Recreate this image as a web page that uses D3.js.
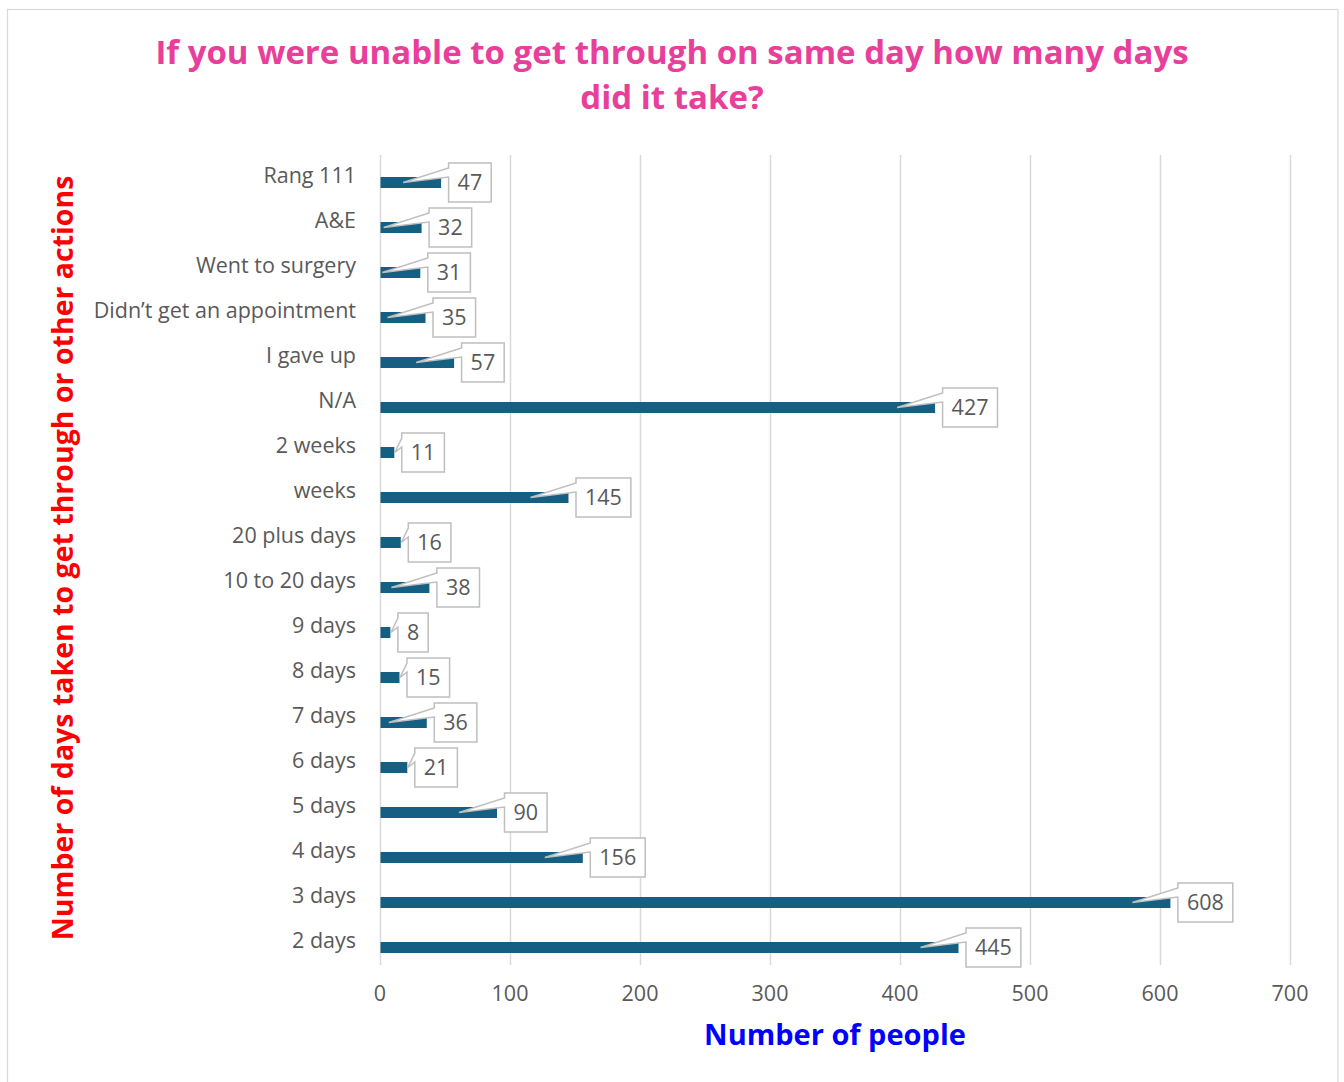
<!DOCTYPE html>
<html><head><meta charset="utf-8">
<script src="https://cdn.jsdelivr.net/npm/d3@7"></script>
<style>body{margin:0;background:#fff}svg{display:block}</style>
</head><body>
<script>
const categories = ["Rang 111","A&E","Went to surgery","Didn’t get an appointment","I gave up","N/A","2 weeks","weeks","20 plus days","10 to 20 days","9 days","8 days","7 days","6 days","5 days","4 days","3 days","2 days"];
const values = [47,32,31,35,57,427,11,145,16,38,8,15,36,21,90,156,608,445];
const xTicks = [0,100,200,300,400,500,600,700];
const titleLines = ["If you were unable to get through on same day how many days","did it take?"];
const yTitle = "Number of days taken to get through or other actions";
const xTitle = "Number of people";

const W = 1344, H = 1082;
const svg = d3.select("body").append("svg").attr("width", W).attr("height", H);
const FONT = "'Open Sans', 'Noto Sans', sans-serif";

svg.append("rect").attr("x",7.5).attr("y",9.5).attr("width",1330.5).attr("height",1080)
  .attr("fill","#fff").attr("stroke","#d9d9d9").attr("stroke-width",1.2);

const x = d3.scaleLinear().domain([0,700]).range([380,1290]);
const y = d3.scaleBand().domain(categories).range([155,965]).padding(0);

// gridlines
svg.append("g").selectAll("line").data(xTicks).join("line")
  .attr("x1",d=>x(d)+0.5).attr("x2",d=>x(d)+0.5).attr("y1",155).attr("y2",965)
  .attr("stroke","#d9d9d9").attr("stroke-width",1.5);

// tick labels
svg.append("g").selectAll("text").data(xTicks).join("text")
  .attr("x",d=>x(d)).attr("y",1001).attr("text-anchor","middle")
  .attr("font-family",FONT).attr("font-size",21.5).attr("fill","#595959").text(d=>d);

// category labels
svg.append("g").selectAll("text").data(categories).join("text")
  .attr("x",356).attr("y",d=>y(d)+y.bandwidth()/2+5.5).attr("text-anchor","end")
  .attr("font-family",FONT).attr("font-size",21.5).attr("fill","#595959").text(d=>d);

// bars
const barH = 11;
const cy = d => y(d)+y.bandwidth()/2+5;
svg.append("g").selectAll("rect").data(categories).join("rect")
  .attr("x",x(0)+0.5).attr("y",d=>cy(d)-barH/2)
  .attr("width",(d,i)=>x(values[i])-x(0)-0.5).attr("height",barH)
  .attr("fill","#156082");

// callout labels
const lg = svg.append("g");
categories.forEach((c,i)=>{
  const v = values[i];
  const end = x(v);
  const yc = cy(c);
  const t = lg.append("text").attr("font-family",FONT).attr("font-size",21.5).attr("fill","#595959")
    .attr("text-anchor","middle").text(v);
  const tw = t.node().getComputedTextLength();
  const bw = tw + 18, bh = 39;
  const bx = end + 7.5, by = yc - bh/2;
  let tipX = end - 38;
  if (tipX < x(0) + 2) tipX = end + 0.5;
  const w1 = by + 5, w2 = by + 14;
  const p = `M${bx},${by} L${bx+bw},${by} L${bx+bw},${by+bh} L${bx},${by+bh} L${bx},${w2} L${tipX},${yc} L${bx},${w1} Z`;
  lg.insert("path","text").attr("d",p).attr("fill","#fff").attr("stroke","#bfbfbf").attr("stroke-width",1.5)
    .attr("stroke-linejoin","miter");
  t.attr("x",bx+bw/2).attr("y",yc+7.5);
  t.raise();
});

// titles
svg.append("text").attr("x",672).attr("y",0).attr("text-anchor","middle")
  .attr("font-family",FONT).attr("font-weight","bold").attr("font-size",33).attr("fill","#E8409A")
  .selectAll("tspan").data(titleLines).join("tspan")
  .attr("x",672).attr("y",(d,i)=>64+i*45).text(d=>d);

svg.append("text").attr("transform","translate(73,558) rotate(-90)").attr("text-anchor","middle")
  .attr("font-family",FONT).attr("font-weight","bold").attr("font-size",28.5).attr("fill","#FF0000").text(yTitle);

svg.append("text").attr("x",835).attr("y",1045).attr("text-anchor","middle")
  .attr("font-family",FONT).attr("font-weight","bold").attr("font-size",29).attr("fill","#0000FF").text(xTitle);
</script>
</body></html>
